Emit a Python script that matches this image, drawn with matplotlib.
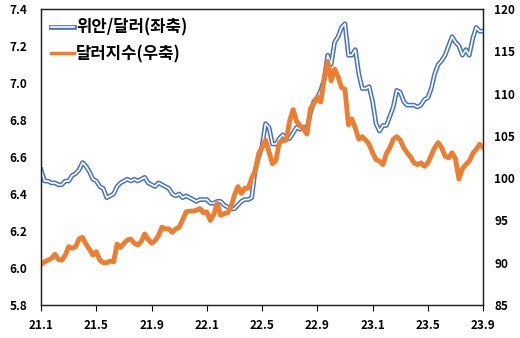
import numpy as np
import matplotlib.pyplot as plt
import matplotlib.patheffects as pe

plt.rcParams['font.family'] = ['Noto Sans CJK KR', 'DejaVu Sans']

# weekly values, Jan 2021 - Aug 2023 (4 per month) + last
cny = [6.53, 6.47, 6.47, 6.46,  6.46, 6.45, 6.45, 6.47,  6.47, 6.50, 6.51, 6.53,
       6.57, 6.55, 6.52, 6.48,  6.47, 6.44, 6.43, 6.38,  6.39, 6.40, 6.44, 6.46,
       6.47, 6.48, 6.47, 6.48,  6.47, 6.48, 6.49, 6.46,  6.45, 6.44, 6.46, 6.45,
       6.44, 6.43, 6.40, 6.39,  6.40, 6.38, 6.39, 6.38,  6.37, 6.36, 6.37, 6.37,
       6.37, 6.35, 6.35, 6.36,  6.36, 6.34, 6.33, 6.32,  6.32, 6.34, 6.36, 6.37,
       6.37, 6.38, 6.53, 6.60,  6.66, 6.78, 6.76, 6.67,  6.67, 6.70, 6.72, 6.70,
       6.70, 6.73, 6.76, 6.75,  6.76, 6.75, 6.84, 6.90,  6.92, 6.96, 7.02, 7.15,
       7.10, 7.22, 7.25, 7.30,  7.32, 7.15, 7.15, 7.18,  7.05, 6.97, 6.97, 6.98,
       6.90, 6.78, 6.74, 6.77,  6.77, 6.82, 6.87, 6.96,  6.95, 6.90, 6.88, 6.88,
       6.88, 6.87, 6.88, 6.91,  6.92, 6.97, 7.05, 7.10,  7.12, 7.15, 7.20, 7.25,
       7.22, 7.20, 7.15, 7.18,  7.15, 7.24, 7.30, 7.28,  7.28]

dxy = [89.8, 90.1, 90.3, 90.5,  91.0, 90.4, 90.3, 90.9,  91.9, 91.7, 91.9, 92.8,
       93.0, 92.2, 91.6, 90.9,  91.3, 90.3, 90.0, 90.0,  90.2, 90.1, 92.2, 91.8,
       92.3, 92.7, 92.8, 92.3,  92.1, 92.5, 93.4, 92.8,  92.3, 92.6, 93.2, 94.2,
       94.0, 94.0, 93.6, 94.0,  94.2, 95.1, 96.0, 96.1,  96.1, 96.2, 96.4, 95.9,
       96.0, 95.0, 95.7, 97.0,  95.6, 95.8, 95.9, 96.6,  98.0, 99.0, 98.2, 98.8,
       98.8, 100.0, 100.8, 102.9,  103.6, 104.5, 103.1, 101.7,  102.1, 104.2, 104.4, 104.5,
       106.8, 108.1, 106.7, 106.2,  105.8, 105.2, 108.2, 108.8,  109.6, 109.0, 111.8, 113.8,
       111.5, 112.9, 112.0, 110.7,  110.5, 106.3, 107.0, 105.9,  104.6, 104.9, 104.5, 104.0,
       103.0, 102.2, 102.0, 101.6,  102.9, 103.6, 104.6, 104.9,  104.5, 103.6, 103.0, 102.5,
       101.8, 101.6, 101.8, 101.4,  101.8, 102.7, 103.6, 104.2,  103.6, 102.6, 102.4, 103.0,
       102.3, 99.9, 101.1, 101.6,  102.0, 102.9, 103.4, 104.0,  103.6]

tick_labels = ['21.1', '21.5', '21.9', '22.1', '22.5', '22.9', '23.1', '23.5', '23.9']

x = np.arange(len(cny)) * 0.25

fig = plt.figure(figsize=(5.2, 3.38), dpi=100)
ax = fig.add_axes([0.079, 0.0976, 0.85, 0.876])
ax2 = ax.twinx()

blue = '#4472C4'
orange = '#ED7D31'

ax.plot(x, cny, color='white', lw=1.2, label='위안/달러(좌축)',
        path_effects=[pe.Stroke(linewidth=3.4, foreground=blue), pe.Normal()])
ax2.plot(x, dxy, color=orange, lw=3.5, label='달러지수(우축)')

ax.set_xlim(0, 32)
ax.set_ylim(5.8, 7.4)
ax2.set_ylim(85, 120)
ax.set_xticks(np.arange(0, 33, 4))
ax.set_xticklabels(tick_labels)
ax.set_yticks(np.arange(5.8, 7.41, 0.2))
ax.set_yticklabels(['%.1f' % v for v in np.arange(5.8, 7.41, 0.2)])
ax2.set_yticks(np.arange(85, 121, 5))

for a in (ax, ax2):
  for s in a.spines.values():
    s.set_color('#222222')
    s.set_linewidth(0.9)
  for lab in a.get_xticklabels() + a.get_yticklabels():
    lab.set_fontweight('bold')
    lab.set_fontsize(8.5)
ax.tick_params(axis='y', length=0, pad=10)
ax2.tick_params(axis='y', length=0, pad=8)
ax.tick_params(axis='x', length=4, direction='out', pad=6)

h1, l1 = ax.get_legend_handles_labels()
h2, l2 = ax2.get_legend_handles_labels()
leg = ax2.legend(h1 + h2, l1 + l2, loc='upper left', frameon=False,
                 prop={'weight': 'bold', 'size': 12}, handlelength=1.4,
                 handletextpad=0.1, borderaxespad=0.2, labelspacing=0.5)
leg.get_lines()[1].set_linewidth(2.5)

fig.savefig('out.png')
